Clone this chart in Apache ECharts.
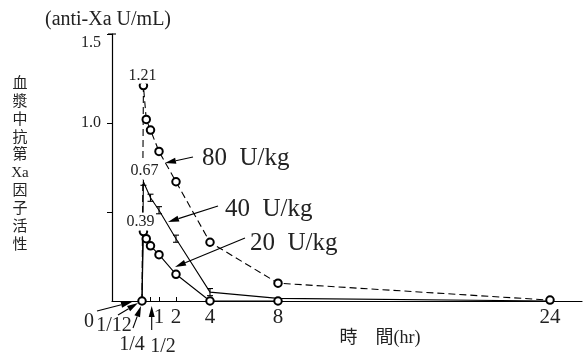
<!DOCTYPE html>
<html>
<head>
<meta charset="utf-8">
<script src="https://cdn.jsdelivr.net/npm/echarts@6/dist/echarts.min.js"></script>
<style>
html, body { margin: 0; padding: 0; background: #fff; }
#main { width: 587px; height: 354px; }
</style>
</head>
<body>
<div id="main"></div>
<script>
// time points (hr) and anti-Xa activity (U/mL) per dose
var hours80 = [0, 1/12, 1/4, 1/2, 1, 2, 4, 8, 24]
var dose80 = [0, 1.21, 1.02, 0.96, 0.84, 0.67, 0.33, 0.10, 0.005]
var hours40 = [0, 1/12, 1/2, 1, 2, 4, 8, 24]
var dose40 = [0, 0.67, 0.58, 0.51, 0.35, 0.05, 0.015, 0]
var err40 = [0, 0.02, 0.02, 0.02, 0.02, 0.02, 0, 0]
var hours20 = [0, 1/12, 1/4, 1/2, 1, 2, 4, 8]
var dose20 = [0, 0.39, 0.35, 0.31, 0.26, 0.15, 0, 0]
var seriesNames = ['80  U/kg', '40  U/kg', '20  U/kg']
var xTickHours = [0.5, 1, 2, 4, 8, 24]
var xLabelHours = [1, 2, 4, 8, 24]
var yTickValues = [0.5, 1.0, 1.5]
var yLabelValues = [1.0, 1.5]
var smallHourLabels = ['0', '1/12', '1/4', '1/2']

var SERIF = '"Liberation Serif", "Noto Sans CJK TC", serif'

function pairs(xs, ys, firstSymbol) {
    return xs.map(function (x, i) {
        var item = { value: [x, ys[i]] }
        if (i === 0 && !firstSymbol) item.symbol = 'none'
        return item
    })
}

var chart = echarts.init(document.getElementById('main'), null, { renderer: 'canvas' })

chart.setOption({
    animation: false,
    backgroundColor: '#fff',
    grid: { left: 112, top: 34, right: 5, bottom: 53, containLabel: false },
    xAxis: {
        type: 'value',
        min: -30 / 17,
        max: 440 / 17,
        splitLine: { show: false },
        axisLine: { onZero: false, lineStyle: { color: '#000', width: 1.2 } },
        axisTick: { inside: true, length: 4, customValues: xTickHours, lineStyle: { color: '#000' } },
        axisLabel: {
            customValues: xLabelHours,
            margin: 6,
            color: '#222',
            fontFamily: SERIF,
            fontSize: 21
        }
    },
    yAxis: {
        type: 'value',
        min: 0,
        max: 1.5,
        splitLine: { show: false },
        axisLine: { onZero: false, lineStyle: { color: '#000', width: 1.2 } },
        axisTick: { length: 5, customValues: yTickValues, lineStyle: { color: '#000' } },
        axisLabel: {
            customValues: yLabelValues,
            margin: 11,
            color: '#222',
            fontFamily: SERIF,
            fontSize: 16,
            formatter: function (v) {
                return v === 1.5 ? '{top|1.5}' : v.toFixed(1)
            },
            rich: { top: { fontFamily: SERIF, fontSize: 16, color: '#222', padding: [18, 0, 0, 0] } }
        }
    },
    series: [{
        name: seriesNames[0],
        type: 'line',
        data: pairs(hours80, dose80),
        symbol: 'emptyCircle',
        symbolSize: 7.5,
        itemStyle: { color: '#000', borderWidth: 0.9 },
        lineStyle: { color: '#000', width: 1.1, type: [7, 4] },
        z: 3
    }, {
        name: seriesNames[1],
        type: 'line',
        data: pairs(hours40, dose40),
        symbol: 'none',
        lineStyle: { color: '#000', width: 1.1 },
        z: 3
    }, {
        name: seriesNames[1] + ' SD',
        type: 'custom',
        data: hours40.map(function (h, i) { return [h, dose40[i], err40[i]] })
            .filter(function (d) { return d[2] > 0 }),
        renderItem: function (params, api) {
            var x = api.value(0), y = api.value(1), e = api.value(2)
            var top = api.coord([x, y + e])
            var bot = api.coord([x, y - e])
            var w = 3
            var st = { stroke: '#000', lineWidth: 1.1 }
            return {
                type: 'group',
                children: [
                    { type: 'line', shape: { x1: top[0], y1: top[1], x2: bot[0], y2: bot[1] }, style: st },
                    { type: 'line', shape: { x1: top[0] - w, y1: top[1], x2: top[0] + w, y2: top[1] }, style: st },
                    { type: 'line', shape: { x1: bot[0] - w, y1: bot[1], x2: bot[0] + w, y2: bot[1] }, style: st }
                ]
            }
        },
        z: 4
    }, {
        name: seriesNames[2],
        type: 'line',
        data: pairs(hours20, dose20, true),
        symbol: 'emptyCircle',
        symbolSize: 7.5,
        itemStyle: { color: '#000', borderWidth: 0.9 },
        lineStyle: { color: '#000', width: 1.1 },
        z: 5
    }]
})

function arrow(x1, y1, x2, y2) {
    var dx = x2 - x1, dy = y2 - y1
    var len = Math.sqrt(dx * dx + dy * dy)
    var ux = dx / len, uy = dy / len
    var hl = 11, hw = 3
    var bx = x2 - ux * hl, by = y2 - uy * hl
    return {
        type: 'group',
        z: 100,
        children: [{
            type: 'line',
            shape: { x1: x1, y1: y1, x2: bx, y2: by },
            style: { stroke: '#000', lineWidth: 1.1 }
        }, {
            type: 'polygon',
            shape: { points: [[x2, y2], [bx - uy * hw, by + ux * hw], [bx + uy * hw, by - ux * hw]] },
            style: { fill: '#000' }
        }]
    }
}

function text(str, x, y, size, align, extra) {
    var st = {
        text: str, x: x, y: y,
        font: size + 'px ' + SERIF,
        fill: '#222',
        align: align || 'center',
        verticalAlign: 'middle'
    }
    for (var k in extra) st[k] = extra[k]
    return { type: 'text', z: 100, style: st }
}

function px(h, v) {
    return chart.convertToPixel({ gridIndex: 0 }, [h, v])
}

var p80 = px(hours80[1], dose80[1])
var p40 = px(hours40[1], dose40[1])
var p20 = px(hours20[1], dose20[1])

var graphics = [
    text('(anti-Xa U/mL)', 108, 20, 20),
    {
        type: 'text', z: 100,
        style: {
            text: '血\n漿\n中\n抗\n第\nXa\n因\n子\n活\n性',
            x: 20, y: 75,
            font: '15px ' + SERIF,
            lineHeight: 17.9,
            fill: '#222',
            align: 'center',
            verticalAlign: 'top'
        }
    },
    text('時　間(hr)', 380, 338, 18),
    text(dose80[1].toFixed(2), p80[0] - 1, p80[1] - 10, 16, 'center', { backgroundColor: '#fff' }),
    text(dose40[1].toFixed(2), p40[0] + 1, p40[1] - 11, 16, 'center', { backgroundColor: '#fff', padding: [1, 1, 1, 1] }),
    text(dose20[1].toFixed(2), p20[0] - 3, p20[1] - 10, 16, 'center', { backgroundColor: '#fff', padding: [1, 1, 1, 1] }),
    text(seriesNames[0], 202, 158, 25, 'left'),
    text(seriesNames[1], 225, 209, 25, 'left'),
    text(seriesNames[2], 250, 243, 25, 'left'),
    arrow(193, 157, 165, 163),
    arrow(218, 206, 168, 222),
    arrow(245, 238, 175, 267),
    text(smallHourLabels[0], 89, 322, 20),
    text(smallHourLabels[1], 114, 326, 20),
    text(smallHourLabels[2], 132, 345, 20),
    text(smallHourLabels[3], 163, 347, 20),
    arrow(97, 311, 132, 302),
    arrow(118, 315, 138, 303),
    arrow(133, 328, 141, 306),
    arrow(151.7, 330, 151.7, 306),
    // small cap across the top of the y axis
    { type: 'line', z: 100, shape: { x1: 108, y1: 34, x2: 116, y2: 34 }, style: { stroke: '#000', lineWidth: 1.1 } }
]

chart.setOption({ graphic: graphics })
</script>
</body>
</html>
